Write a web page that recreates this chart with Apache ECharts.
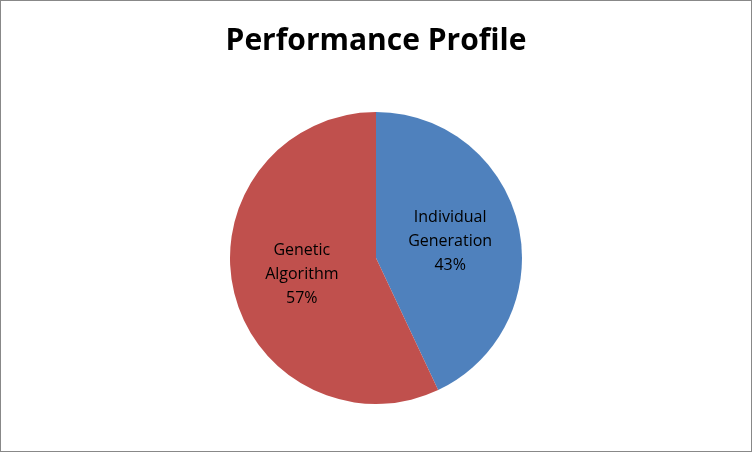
<!DOCTYPE html>
<html>
<head>
<meta charset="utf-8">
<script src="https://cdn.jsdelivr.net/npm/echarts@6/dist/echarts.min.js"></script>
<style>
  html, body { margin: 0; padding: 0; background: #fff; }
  #chart { width: 750px; height: 450px; border: 1px solid #888; }
</style>
</head>
<body>
<div id="chart"></div>
<script>
const categories = ['Individual\nGeneration', 'Genetic\nAlgorithm']
const values = [43, 57]
const colors = ['#4F81BD', '#C0504D']

const chart = echarts.init(document.getElementById('chart'))

chart.setOption({
  backgroundColor: '#ffffff',
  animation: false,
  title: {
    text: 'Performance Profile',
    left: 'center',
    top: 20,
    textStyle: {
      color: '#000',
      fontSize: 30,
      fontWeight: 700,
      fontFamily: 'Open Sans'
    }
  },
  series: [
    {
      type: 'pie',
      radius: ['0%', 146],
      center: [375, 257],
      startAngle: 90,
      clockwise: true,
      label: {
        position: 'inside',
        formatter: '{b}\n{d}%',
        color: '#000',
        fontSize: 16,
        lineHeight: 24,
        fontFamily: 'Open Sans'
      },
      labelLine: { show: false },
      itemStyle: { borderWidth: 0 },
      data: categories.map((name, i) => ({
        name,
        value: values[i],
        itemStyle: { color: colors[i] }
      }))
    }
  ]
})
</script>
</body>
</html>
